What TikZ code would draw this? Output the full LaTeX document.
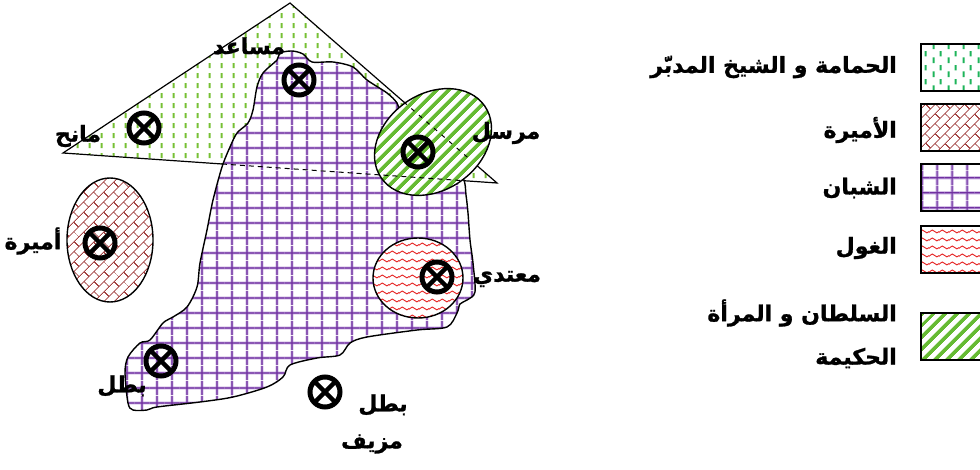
\documentclass[tikz,border=0pt]{standalone}
\usepackage{fontspec}
\usetikzlibrary{patterns.meta,calc}
\TeXXeTstate=1
\newfontfamily\arabicfont[Script=Arabic,BoldFeatures={FakeBold=1.2}]{DejaVu Sans}
\definecolor{triGreen}{RGB}{118,192,52}
\definecolor{legGreen}{RGB}{30,180,90}
\definecolor{gridPurple}{RGB}{112,48,160}
\definecolor{gridHalo}{RGB}{190,160,220}
\definecolor{brickBrown}{RGB}{165,70,70}
\definecolor{waveRed}{RGB}{230,40,40}
\definecolor{stripeGreen}{RGB}{102,187,51}

\tikzdeclarepattern{name=triDash, type=colored,
  bounding box={(0pt,0pt) and (12pt,10pt)}, tile size={(12pt,10pt)},
  code={\draw[triGreen, line width=2.2pt] (6pt,2pt) -- (6pt,7.5pt);}}
\tikzdeclarepattern{name=legDash, type=colored,
  bounding box={(0pt,0pt) and (15pt,14pt)}, tile size={(15pt,14pt)},
  code={\draw[legGreen, line width=2pt] (3.75pt,1pt) -- (3.75pt,7pt) (11.25pt,8pt) -- (11.25pt,13.5pt);}}
\tikzdeclarepattern{name=gridP, type=colored,
  bounding box={(0pt,0pt) and (15pt,15pt)}, tile size={(15pt,15pt)},
  code={\draw[gridHalo, line width=3pt] (7.5pt,0pt) -- (7.5pt,15pt) (0pt,7.5pt) -- (15pt,7.5pt);
        \draw[gridPurple, line width=1.3pt] (7.5pt,0pt) -- (7.5pt,15pt) (0pt,7.5pt) -- (15pt,7.5pt);}}
\tikzdeclarepattern{name=brickP, type=colored,
  bounding box={(0pt,0pt) and (14pt,14pt)}, tile size={(14pt,14pt)},
  tile transformation={rotate=45},
  code={\draw[brickBrown, line width=0.9pt] (0pt,3.5pt) -- (14pt,3.5pt) (0pt,10.5pt) -- (14pt,10.5pt)
        (3.5pt,3.5pt) -- (3.5pt,10.5pt) (10.5pt,10.5pt) -- (10.5pt,14pt) (10.5pt,0pt) -- (10.5pt,3.5pt);}}
\tikzdeclarepattern{name=waveP, type=colored,
  bounding box={(0pt,0pt) and (10pt,7.5pt)}, tile size={(10pt,7.5pt)},
  code={\draw[waveRed, line width=1pt] (0pt,3.75pt) sin (2.5pt,5.25pt) cos (5pt,3.75pt) sin (7.5pt,2.25pt) cos (10pt,3.75pt);}}
\tikzdeclarepattern{name=stripeP, type=colored,
  bounding box={(0pt,0pt) and (9pt,9pt)}, tile size={(9pt,9pt)},
  tile transformation={rotate=45},
  code={\fill[stripeGreen] (0pt,2.5pt) rectangle (9pt,6.5pt);}}

\begin{document}
\begin{tikzpicture}[x=1pt,y=-1pt,
  lbl/.style={font=\arabicfont\bfseries\fontsize{22}{26}\selectfont, inner sep=0pt},
  leglbl/.style={lbl, anchor=east},
  outline/.style={draw=black, line width=1.4pt},
  xmark/.style={circle, draw=black, line width=5pt, minimum size=30pt, inner sep=0pt,
    path picture={\draw[line width=4.4pt] (path picture bounding box.south west) -- (path picture bounding box.north east)
      (path picture bounding box.north west) -- (path picture bounding box.south east);}},
  dashline/.style={draw=black, line width=1pt, dash pattern=on 5pt off 4pt},
  legbox/.style={draw=black, line width=2pt, anchor=north west, minimum width=80pt, minimum height=47pt, inner sep=0pt}
]
\useasboundingbox (0,0) rectangle (980,470);
\clip (0,0) rectangle (980,470);

% triangle
\coordinate (tT) at (290,3);
\coordinate (tL) at (63,153);
\coordinate (tR) at (497,183);
\draw[line width=1.2pt, pattern=triDash] (tT) -- (tL) -- (tR) -- cycle;

% blob (الشبان)
\draw[outline, preaction={fill=white}, pattern=gridP] plot[smooth cycle, tension=0.5] coordinates {
 (280,53) (292,51) (303,54) (312,62) (333,62) (353,67) (367,80) (387,93) (397,103) (402,116)
 (422,138) (445,160) (463,178) (466,195) (468,213) (470,240) (473,263) (475,292) (467,300)
 (460,304) (457,313) (447,327) (417,330) (367,337) (350,343) (340,355) (317,358) (290,365)
 (283,377) (267,387) (233,397) (200,402) (157,407) (147,410) (133,410) (128,403) (125,373)
 (128,357) (140,343) (150,340) (163,323) (173,317) (187,307) (197,287) (200,263) (207,230)
 (213,200) (222,167) (230,147) (237,133) (248,123) (253,110) (257,87) (263,73) (277,60)};

% princess ellipse
\draw[outline, preaction={fill=white}, pattern=brickP] (110,240) ellipse[x radius=43, y radius=62];
% ghoul circle
\draw[outline, preaction={fill=white}, pattern=waveP] (418,278) ellipse[x radius=45, y radius=40];
% sultan ellipse
\draw[outline, preaction={fill=white}, pattern=stripeP, rotate around={35:(433,142)}] (433,142) ellipse[x radius=63, y radius=48];

% dashed parts of triangle
\draw[dashline] ($(tL)!0.366!(tR)$) -- ($(tL)!0.915!(tR)$);
\draw[dashline, dash pattern=on 4pt off 6pt] ($(tT)!0.55!(tR)$) -- ($(tT)!0.87!(tR)$);

% markers
\node[xmark] (mMusaid) at (299,80) {};
\node[xmark] (mManih) at (144,128) {};
\node[xmark] (mMursil) at (418,152) {};
\node[xmark] (mAmira) at (100,243) {};
\node[xmark] (mMutadi) at (437,277) {};
\node[xmark] (mBatal) at (161,361) {};
\node[xmark] (mFake) at (325,392) {};

% labels
\node[lbl] (lMusaid) at (249,46) {\beginR مساعد\endR};
\node[lbl] (lManih) at (78,136) {\beginR مانح\endR};
\node[lbl] (lMursil) at (506,133) {\beginR مرسل\endR};
\node[lbl] (lAmira) at (33,241) {\beginR أميرة\endR};
\node[lbl] (lMutadi) at (507,279) {\beginR معتدي\endR};
\node[lbl] (lBatal) at (122,386) {\beginR بطل\endR};
\node[lbl] (lBatalB) at (383,405) {\beginR بطل\endR};
\node[lbl] (lMuzayyaf) at (372,444) {\beginR مزيف\endR};

% legend
\node[legbox, pattern=legDash] (b1) at (920,43) {};
\node[legbox, pattern=brickP] (b2) at (920,103) {};
\node[legbox, pattern=gridP] (b3) at (920,163) {};
\node[legbox, pattern=waveP] (b4) at (920,225) {};
\node[legbox, pattern=stripeP] (b5) at (920,312) {};
\node[leglbl] (g1) at (897,67) {\beginR الحمامة و الشيخ المدبّر\endR};
\node[leglbl] (g2) at (897,130) {\beginR الأميرة\endR};
\node[leglbl] (g3) at (897,188) {\beginR الشبان\endR};
\node[leglbl] (g4) at (897,248) {\beginR الغول\endR};
\node[leglbl] (g5a) at (897,313) {\beginR السلطان و المرأة\endR};
\node[leglbl] (g5b) at (897,358) {\beginR الحكيمة\endR};
\end{tikzpicture}
\end{document}
